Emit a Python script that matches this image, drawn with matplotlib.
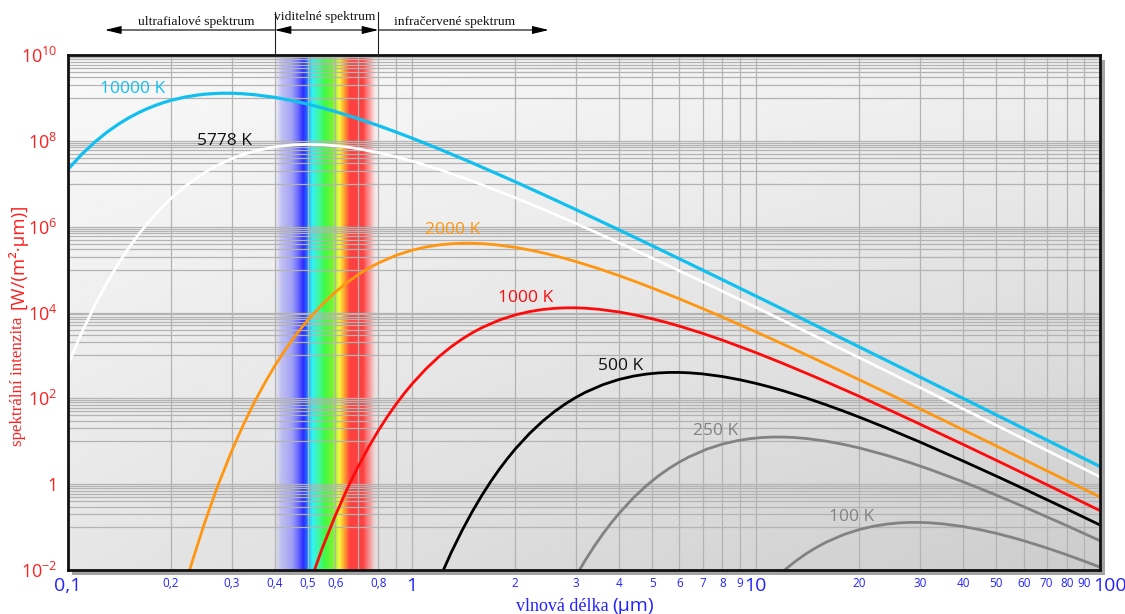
import numpy as np
import matplotlib
matplotlib.use("Agg")
import matplotlib.pyplot as plt
import matplotlib.transforms as mtransforms
from matplotlib.colors import LinearSegmentedColormap
from matplotlib.patches import Rectangle
from matplotlib.ticker import FixedLocator, FixedFormatter, NullFormatter

plt.rcParams['font.family'] = ['Open Sans', 'DejaVu Sans']
plt.rcParams['mathtext.fontset'] = 'custom'
plt.rcParams['mathtext.rm'] = 'Open Sans'
plt.rcParams['mathtext.it'] = 'Open Sans:italic'
plt.rcParams['mathtext.bf'] = 'Open Sans:bold'

# ---------------- data ----------------
wl_10000 = [0.1, 0.11, 0.12, 0.13, 0.14, 0.15, 0.16, 0.17, 0.18, 0.19, 0.2, 0.22, 0.24, 0.25, 0.26, 0.28,
            0.3, 0.32, 0.35, 0.4, 0.45, 0.5, 0.55, 0.6, 0.7, 0.8, 0.9, 1, 1.2, 1.5, 2, 2.5, 3, 4, 5, 6,
            7, 8, 10, 15, 20, 30, 40, 50, 70, 100]
m_10000 = [2.11e7, 4.85e7, 9.33e7, 1.573e8, 2.394e8, 3.364e8, 4.438e8, 5.565e8, 6.69e8, 7.78e8, 8.80e8,
           1.050e9, 1.174e9, 1.217e9, 1.249e9, 1.284e9, 1.283e9, 1.258e9, 1.187e9, 1.030e9, 8.64e8,
           7.14e8, 5.865e8, 4.81e8, 3.27e8, 2.266e8, 1.606e8, 1.164e8, 6.49e7, 3.06e7, 1.11e7, 4.92e6,
           2.50e6, 8.44e5, 3.59e5, 1.776e5, 9.76e4, 5.80e4, 2.42e4, 4.90e3, 1.57e3, 313, 99.8, 41.0,
           10.7, 2.58]

wl_5778 = [0.1, 0.11, 0.12, 0.13, 0.14, 0.15, 0.16, 0.17, 0.185, 0.2, 0.22, 0.25, 0.27, 0.3, 0.32, 0.35,
           0.4, 0.45, 0.5, 0.55, 0.6, 0.65, 0.7, 0.8, 0.9, 1, 1.2, 1.5, 2, 2.5, 3, 4, 5, 6, 8, 10, 15,
           20, 30, 40, 50, 70, 100]
m_5778 = [574, 3.43e3, 1.46e4, 4.84e4, 1.312e5, 3.04e5, 6.22e5, 1.147e6, 2.465e6, 4.58e6, 8.82e6,
          1.81e7, 2.576e7, 3.83e7, 4.66e7, 5.80e7, 7.24e7, 8.05e7, 8.29e7, 8.12e7, 7.70e7, 7.15e7,
          6.54e7, 5.32e7, 4.25e7, 3.38e7, 2.16e7, 1.157e7, 4.73e6, 2.24e6, 1.19e6, 4.23e5, 1.855e5,
          9.35e4, 3.13e4, 1.323e4, 2.73e3, 882, 178, 56.9, 23.5, 6.15, 1.48]

wl_2000 = [0.22, 0.23, 0.25, 0.27, 0.275, 0.3, 0.325, 0.35, 0.375, 0.4, 0.425, 0.45, 0.475, 0.5, 0.55,
           0.6, 0.65, 0.7, 0.75, 0.8, 0.9, 1.0, 1.1, 1.2, 1.3, 1.4, 1.5, 1.6, 1.75, 2, 2.25, 2.5, 2.75,
           3, 3.5, 4, 4.5, 5, 6, 7.5, 10, 12.5, 15, 20, 25, 35, 40, 50, 75, 100]
m_2000 = [4.57e-3, 0.0152, 0.122, 0.700, 1.036, 5.93, 25.2, 84.4, 235, 565, 1202, 2313, 4095, 6753,
          1.551e4, 2.987e4, 5.034e4, 7.66e4, 1.076e5, 1.420e5, 2.141e5, 2.813e5, 3.360e5, 3.755e5,
          3.996e5, 4.107e5, 4.106e5, 4.025e5, 3.799e5, 3.296e5, 2.765e5, 2.285e5, 1.876e5, 1.539e5,
          1.046e5, 7.25e4, 5.14e4, 3.72e4, 2.077e4, 9.79e3, 3.55e3, 1.576e3, 801, 270, 115, 31.2,
          18.55, 7.74, 1.566, 0.502]

wl_1000 = [0.5, 0.55, 0.6, 0.65, 0.7, 0.75, 0.8, 0.85, 0.9, 0.95, 1, 1.1, 1.2, 1.3, 1.4, 1.5, 1.6, 1.8,
           2, 2.2, 2.4, 2.6, 2.8, 3, 3.2, 3.5, 4, 4.5, 5, 5.5, 6, 7, 8, 10, 12, 15, 20, 25, 30, 40, 50,
           70, 100]
m_1000 = [3.81e-3, 0.0324, 0.1854, 0.786, 2.64, 7.35, 17.66, 37.6, 72.3, 128, 211, 485, 933, 1574,
          2394, 3364, 4438, 6692, 8795, 1.050e4, 1.174e4, 1.249e4, 1.284e4, 1.283e4, 1.258e4, 1.187e4,
          1.030e4, 8.64e3, 7.14e3, 5.865e3, 4.81e3, 3.27e3, 2.266e3, 1.164e3, 649, 306, 111, 49.2,
          25.0, 8.44, 3.59, 0.976, 0.242]

wl_500 = [1.2, 1.3, 1.4, 1.5, 1.6, 1.7, 1.8, 1.9, 2.0, 2.2, 2.4, 2.6, 2.8, 3.0, 3.2, 3.6, 4, 4.4, 4.8,
          5.2, 5.6, 6, 6.4, 7, 8, 9, 10, 11, 12, 14, 16, 18, 20, 24, 30, 40, 50, 60, 80, 100]
m_500 = [5.79e-3, 0.0246, 0.0824, 0.2298, 0.552, 1.174, 2.259, 4.00, 6.60, 15.15, 29.2, 49.2, 74.8,
         105.1, 138.7, 209.1, 274.8, 328.2, 366.8, 390.4, 401.2, 401.1, 393.2, 371.0, 321.9, 270.0,
         223.2, 183.3, 150.4, 102.2, 70.8, 50.2, 36.4, 20.3, 9.57, 3.47, 1.539, 0.782, 0.264, 0.112]

wl_250 = [3.0, 3.2, 3.4, 3.6, 3.8, 4.0, 4.4, 4.8, 5.2, 5.6, 6.0, 6.4, 7.2, 8, 8.8, 9.6, 10.4, 11.2, 12,
          12.8, 14, 16, 18, 20, 24, 28, 32, 40, 48, 60, 80, 100]
m_250 = [7.18e-3, 0.01725, 0.0367, 0.0706, 0.125, 0.206, 0.4735, 0.912, 1.536, 2.338, 3.285, 4.335,
         6.535, 8.59, 10.26, 11.46, 12.20, 12.53, 12.53, 12.28, 11.59, 10.06, 8.44, 6.97, 4.70, 3.19,
         2.21, 1.136, 0.634, 0.299, 0.1084, 0.0481]

wl_100 = [11, 12, 13, 14, 15, 16, 18, 20, 22, 24, 26, 28, 30, 32, 35, 40, 45, 50, 55, 60, 70, 80, 90, 100]
m_100 = [4.85e-3, 9.33e-3, 0.01573, 0.02394, 0.03364, 0.04438, 0.0669, 0.0879, 0.1050, 0.1174, 0.1249,
         0.1284, 0.1283, 0.1258, 0.1187, 0.1030, 0.0864, 0.0714, 0.0586, 0.0481, 0.0327, 0.02266,
         0.01606, 0.01164]

curve_labels = ['10000 K', '5778 K', '2000 K', '1000 K', '500 K', '250 K', '100 K']

x_major = [0.1, 1, 10, 100]
x_major_labels = ['0,1', '1', '10', '100']
x_minor = [0.2, 0.3, 0.4, 0.5, 0.6, 0.7, 0.8, 0.9, 2, 3, 4, 5, 6, 7, 8, 9, 20, 30, 40, 50, 60, 70, 80, 90]
x_minor_labels = ['0,2', '0,3', '0,4', '0,5', '0,6', '', '0,8', '', '2', '3', '4', '5', '6', '7', '8', '9',
                  '20', '30', '40', '50', '60', '70', '80', '90']
y_major = [1e-2, 1, 1e2, 1e4, 1e6, 1e8, 1e10]
y_major_labels = [r'$10^{-2}$', '1', r'$10^{2}$', r'$10^{4}$', r'$10^{6}$', r'$10^{8}$', r'$10^{10}$']
y_minor_exps = [-1, 1, 3, 5, 7, 9]
y_minor = [m * 10.0 ** e for e in y_minor_exps for m in range(1, 10)]

visible_range = (0.4, 0.8)

# ---------------- styling ----------------
RED = '#ff1f1f'
BLUE = '#2323ff'
styles = {
    '10000 K': dict(color='#12c0f0', lw=2.3, tc='#12c0f0', pos=(0.0634, 0.934)),
    '5778 K': dict(color='#ffffff', lw=2.0, tc='#111111', pos=(0.1525, 0.833)),
    '2000 K': dict(color='#ff9610', lw=2.0, tc='#ff9610', pos=(0.373, 0.661)),
    '1000 K': dict(color='#ff0a0a', lw=2.0, tc='#ff0a0a', pos=(0.444, 0.529)),
    '500 K': dict(color='#000000', lw=2.0, tc='#111111', pos=(0.536, 0.397)),
    '250 K': dict(color='#828282', lw=2.0, tc='#828282', pos=(0.628, 0.270)),
    '100 K': dict(color='#828282', lw=2.0, tc='#828282', pos=(0.759, 0.103)),
}
series = {
    '10000 K': (wl_10000, m_10000), '5778 K': (wl_5778, m_5778), '2000 K': (wl_2000, m_2000),
    '1000 K': (wl_1000, m_1000), '500 K': (wl_500, m_500), '250 K': (wl_250, m_250),
    '100 K': (wl_100, m_100),
}

W, H = 1125, 614
fig = plt.figure(figsize=(W / 100, H / 100), dpi=100)
L, R, T, B = 67.5, 1100, 55, 570
ax = fig.add_axes([L / W, 1 - B / H, (R - L) / W, (B - T) / H])
ax.patch.set_alpha(0)

# shadow behind the frame
shadow = Rectangle(((L + 4) / W, 1 - (B + 5) / H), (R - L + 1) / W, (B - T) / H,
                   transform=fig.transFigure, facecolor='#a3a3a3', edgecolor='none', zorder=-5)
fig.patches.append(shadow)

ax.set_xscale('log')
ax.set_yscale('log')
ax.set_xlim(0.1, 100)
ax.set_ylim(1e-2, 1e10)

# background gradient
gy, gx = np.mgrid[0:1:200j, 0:1:200j]
bg = 0.975 - 0.035 * gx - 0.075 * gy - 0.065 * gx * gy
ax.imshow(bg, cmap='gray', vmin=0, vmax=1, extent=[0, 1, 0, 1], transform=ax.transAxes,
          aspect='auto', interpolation='bilinear', zorder=0.1)

# visible spectrum band
stops = [(0.00, (0.72, 0.72, 0.95, 0.0)), (0.06, (0.72, 0.72, 0.96, 0.85)),
         (0.16, (0.62, 0.62, 0.97, 0.95)), (0.22, (0.42, 0.42, 1.0, 1)), (0.27, (0.18, 0.18, 1.0, 1)),
         (0.30, (0.15, 0.35, 1.0, 1)), (0.33, (0.15, 0.75, 1.0, 1)), (0.36, (0.20, 0.95, 0.95, 1)),
         (0.42, (0.25, 0.97, 0.65, 1)), (0.48, (0.25, 0.98, 0.25, 1)), (0.56, (0.50, 0.95, 0.20, 1)),
         (0.62, (0.97, 0.97, 0.25, 1)), (0.67, (1.0, 0.62, 0.18, 1)), (0.72, (1.0, 0.25, 0.25, 1)),
         (0.85, (1.0, 0.22, 0.22, 0.95)), (0.92, (1.0, 0.45, 0.45, 0.6)), (1.00, (1.0, 1.0, 1.0, 0.0))]
spec_cmap = LinearSegmentedColormap.from_list('spec', stops, N=512)
f0 = (np.log10(visible_range[0]) + 1) / 3
f1 = (np.log10(visible_range[1]) + 1) / 3
ax.imshow(np.linspace(0, 1, 400)[None, :], cmap=spec_cmap, extent=[f0, f1, 0, 1],
          transform=ax.transAxes, aspect='auto', interpolation='bilinear', zorder=0.5)

# grid & ticks
ax.xaxis.set_major_locator(FixedLocator(x_major))
ax.xaxis.set_major_formatter(FixedFormatter(x_major_labels))
ax.xaxis.set_minor_locator(FixedLocator(x_minor))
ax.xaxis.set_minor_formatter(FixedFormatter(x_minor_labels))
ax.yaxis.set_major_locator(FixedLocator(y_major))
ax.yaxis.set_major_formatter(FixedFormatter(y_major_labels))
ax.yaxis.set_minor_locator(FixedLocator(y_minor))
ax.yaxis.set_minor_formatter(NullFormatter())
ax.grid(True, which='both', color='#b3b3b3', lw=0.9, zorder=1)
ax.tick_params(which='both', length=0)
ax.tick_params(axis='x', which='major', labelsize=14, labelcolor=BLUE, pad=5)
ax.tick_params(axis='x', which='minor', labelsize=8.5, labelcolor=BLUE, pad=5)
ax.tick_params(axis='y', which='major', labelsize=13, labelcolor=RED, pad=7)
for s in ax.spines.values():
    s.set_linewidth(2.0)
    s.set_color('#111111')
    s.set_zorder(5)

# curves (coolest first, hottest on top)
for name in ['100 K', '250 K', '500 K', '1000 K', '2000 K', '5778 K', '10000 K']:
    wl, m = series[name]
    st = styles[name]
    ax.plot(wl, m, color=st['color'], lw=st['lw'], solid_joinstyle='round', solid_capstyle='round',
            zorder=3)
    ax.text(st['pos'][0], st['pos'][1], name, transform=ax.transAxes, color=st['tc'], fontsize=12.5,
            ha='center', va='center', zorder=4)

fig.canvas.draw()
# the "100" label sits slightly right of its tick in the original
lab100 = ax.xaxis.get_major_ticks()[-1].label1
lab100.set_transform(lab100.get_transform() + mtransforms.ScaledTranslation(10 / 100, 0, fig.dpi_scale_trans))

# top annotations: spectral regions
xt = ax.get_xaxis_transform()
ya = 1 + (T - 30) / (B - T)
for xv in visible_range:
    ax.plot([xv, xv], [1.0, 1 + (T - 12) / (B - T)], transform=xt, color='#222222', lw=0.8,
            clip_on=False, zorder=6)
arrow_kw = dict(color='black', lw=0.8, shrinkA=0, shrinkB=0, mutation_scale=11)
ax.annotate('', xy=(0.1285, ya), xytext=(visible_range[0], ya), xycoords=xt, textcoords=xt,
            arrowprops=dict(arrowstyle='-|>,head_length=0.9,head_width=0.22', **arrow_kw))
ax.annotate('', xy=(visible_range[1], ya), xytext=(visible_range[0], ya), xycoords=xt, textcoords=xt,
            arrowprops=dict(arrowstyle='<|-|>,head_length=0.9,head_width=0.22', **arrow_kw))
ax.annotate('', xy=(2.5, ya), xytext=(visible_range[1], ya), xycoords=xt, textcoords=xt,
            arrowprops=dict(arrowstyle='-|>,head_length=0.9,head_width=0.22', **arrow_kw))
serif = 'Liberation Serif'
ax.text(0.1245, 1 + (T - 22) / (B - T), 'ultrafialové spektrum', transform=ax.transAxes, ha='center',
        va='center', family=serif, fontsize=9.7, color='#111111')
ax.text(0.2494, 1 + (T - 17) / (B - T), 'viditelné spektrum', transform=ax.transAxes, ha='center',
        va='center', family=serif, fontsize=9.7, color='#111111')
ax.text(0.3753, 1 + (T - 22) / (B - T), 'infračervené spektrum', transform=ax.transAxes, ha='center',
        va='center', family=serif, fontsize=9.7, color='#111111')

# axis labels (mixed serif / sans like the original)
fig.text(18 / W, 1 - 446 / H, 'spektrální intenzita', rotation=90, ha='center', va='bottom',
         family=serif, fontsize=12.2, color=RED)
fig.text(18 / W, 1 - 309 / H, '[W/(m²·µm)]', rotation=90, ha='center', va='bottom',
         fontsize=13.5, color=RED)
fig.text(609 / W, 1 - 611 / H, 'vlnová délka', ha='right', va='baseline', family=serif, fontsize=13,
         color=BLUE)
fig.text(612 / W, 1 - 611 / H, '(µm)', ha='left', va='baseline', fontsize=14, color=BLUE)

fig.savefig('out.png', dpi=100)
